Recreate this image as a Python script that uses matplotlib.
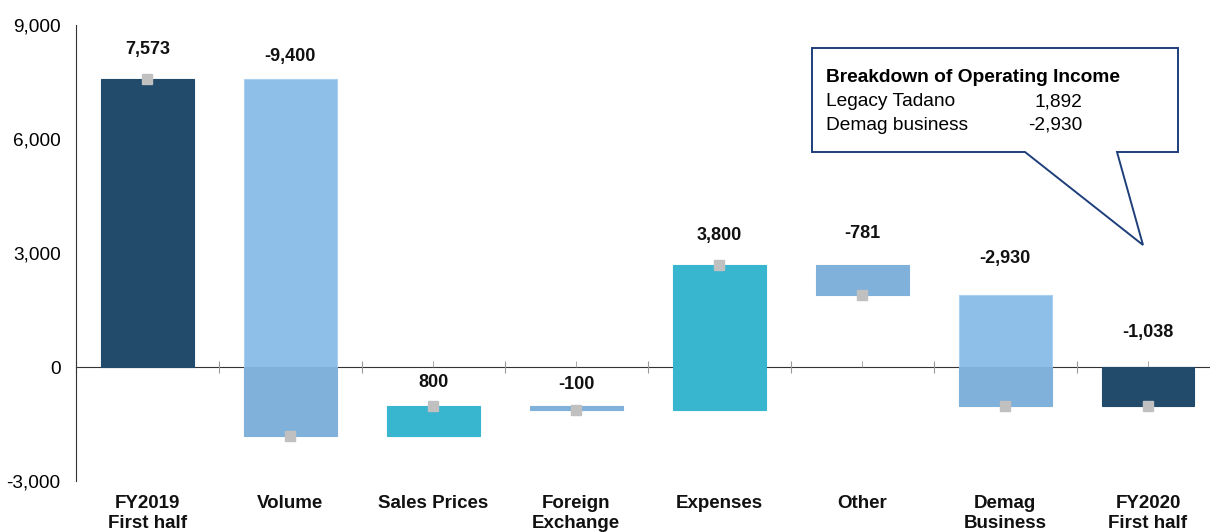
import matplotlib.pyplot as plt
from matplotlib.patches import Polygon
import numpy as np

plt.rcParams['font.family'] = ['Liberation Sans', 'DejaVu Sans']

categories = ['FY2019\nFirst half', 'Volume', 'Sales Prices', 'Foreign\nExchange',
              'Expenses', 'Other', 'Demag\nBusiness', 'FY2020\nFirst half']
changes = [7573, -9400, 800, -100, 3800, -781, -2930, -1038]
is_total = [True, False, False, False, False, False, False, True]
value_labels = ['7,573', '-9,400', '800', '-100', '3,800', '-781', '-2,930', '-1,038']
breakdown_names = ['Legacy Tadano', 'Demag business']
breakdown_values = ['1,892', '-2,930']

navy = '#214A6B'
light = '#8DBFE8'
mid = '#80B1DA'
teal = '#38B5CF'
# colour above / below zero for each bar
col_pos = [navy, light, teal, mid, teal, mid, light, navy]
col_neg = [navy, mid, teal, mid, teal, mid, mid, navy]
label_off = [30, 23, 24, 22, 30, 32, 37, 34]  # px above bar top

# waterfall start / end
starts, ends = [], []
run = 0
for c, tot in zip(changes, is_total):
    if tot:
        starts.append(0)
        ends.append(c)
        run = c
    else:
        starts.append(run)
        run = run + c
        ends.append(run)

fig = plt.figure(figsize=(12.1, 5.32), dpi=100)
W, H = 1210, 532
ax = fig.add_axes([76 / W, 51 / H, (1219.5 - 76) / W, (481 - 25) / H])

x = np.arange(len(categories))
bw = 0.65
for i in x:
    lo, hi = min(starts[i], ends[i]), max(starts[i], ends[i])
    if hi > 0:
        ax.bar(i, hi - max(lo, 0), bottom=max(lo, 0), width=bw, color=col_pos[i],
               edgecolor='#A9D0F0' if col_pos[i] == light else col_pos[i], linewidth=0.8, zorder=2)
    if lo < 0:
        ax.bar(i, min(hi, 0) - lo, bottom=lo, width=bw, color=col_neg[i],
               edgecolor=col_neg[i], linewidth=0.8, zorder=2)

ax.plot(x, ends, ls='none', marker='s', ms=7.5, color='#C0C0C0', zorder=3)

for i in x:
    top = max(starts[i], ends[i])
    ax.annotate(value_labels[i], (i, top), xytext=(0, label_off[i] * 0.72),
                textcoords='offset points', ha='center', va='center',
                fontsize=13, fontweight='bold', color='#111111')

ax.set_xlim(-0.5, len(categories) - 0.5)
ax.set_ylim(-3000, 9000)
ax.set_yticks([-3000, 0, 3000, 6000, 9000])
ax.set_yticklabels([f'{v:,}' for v in [-3000, 0, 3000, 6000, 9000]], fontsize=13.7)
ax.tick_params(axis='y', length=0, pad=11)

ax.spines['top'].set_visible(False)
ax.spines['right'].set_visible(False)
ax.spines['left'].set_color('#333333')
ax.spines['bottom'].set_position(('data', 0))
ax.spines['bottom'].set_color('#333333')
ax.spines['bottom'].set_zorder(1)
ax.set_xticks(np.arange(-0.5, len(categories), 1.0))
ax.set_xticks(x, minor=True)
ax.tick_params(axis='x', which='major', direction='inout', length=8, color='#999999', labelbottom=False)
ax.tick_params(axis='x', which='minor', direction='in', length=4, color='#999999', labelbottom=False)

for i, name in enumerate(categories):
    ax.text(i, -3000 - 14 * 3000 / 114, name, ha='center', va='top',
            fontsize=13.5, fontweight='bold', linespacing=1.22, color='#111111')

# callout box
pts = [(812, 48), (1178, 48), (1178, 152), (1117, 152), (1143, 245), (1025, 152), (812, 152)]
poly = Polygon([(px / W, 1 - py / H) for px, py in pts], closed=True, transform=fig.transFigure,
               facecolor='white', edgecolor='#1F3F7A', linewidth=1.4, zorder=5)
fig.patches.append(poly)
fig.text(826 / W, 1 - 78 / H, 'Breakdown of Operating Income', fontsize=13.8,
         fontweight='bold', va='center', ha='left', zorder=6)
for k, (nm, vl) in enumerate(zip(breakdown_names, breakdown_values)):
    yy = 1 - (102 + 23 * k) / H
    fig.text(826 / W, yy, nm, fontsize=13.8, va='center', ha='left', zorder=6)
    fig.text(1082 / W, yy, vl, fontsize=13.8, va='center', ha='right', zorder=6)

fig.savefig('out.png', dpi=100)
